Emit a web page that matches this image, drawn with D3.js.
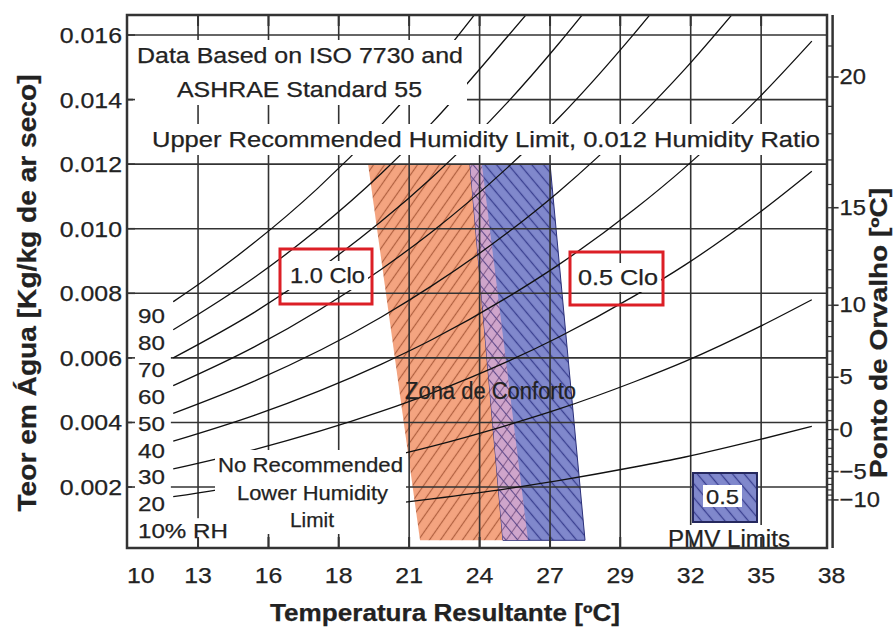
<!DOCTYPE html>
<html>
<head>
<meta charset="utf-8">
<script src="https://cdn.jsdelivr.net/npm/d3@7"></script>
<style>
  body { margin: 0; background: #fff; }
  svg { display: block; font-family: "Liberation Sans", Arial, Helvetica, sans-serif; }
</style>
</head>
<body>
<div id="chart"></div>
<script>
// --- data ---
const tempTicks = [10, 12.78, 15.56, 18.33, 21.11, 23.89, 26.67, 29.44, 32.22, 35, 37.78];
const tempLabels = ['10', '13', '16', '18', '21', '24', '27', '29', '32', '35', '38'];
const ratioTicks = [0.002, 0.004, 0.006, 0.008, 0.010, 0.012, 0.014, 0.016];
const ratioLabels = ['0.002', '0.004', '0.006', '0.008', '0.010', '0.012', '0.014', '0.016'];

const dewTicks = [20, 15, 10, 5, 0, -5, -10];
const dewTickRatio = [0.01470, 0.01065, 0.00763, 0.00540, 0.00378, 0.00248, 0.00160];
// minor dew point ticks, every 1 degree from 21 down to -10
const dewMinorRatio = [0.01566, 0.01470, 0.01379, 0.01294, 0.01213, 0.01137, 0.01065, 0.00997,
  0.00933, 0.00873, 0.00817, 0.00763, 0.00713, 0.00666, 0.00621, 0.00580, 0.00540, 0.00503,
  0.00469, 0.00436, 0.00406, 0.00378, 0.00347, 0.00320, 0.00294, 0.00270, 0.00248, 0.00227,
  0.00208, 0.00191, 0.00175, 0.00160];

const rhLabels = ['90', '80', '70', '60', '50', '40', '30', '20', '10% RH'];
const rh90 = [[11.8, 0.00774], [13, 0.00839], [15, 0.00957], [17.5, 0.01125], [20, 0.01320], [22, 0.01497], [24, 0.01694]];
const rh80 = [[11.8, 0.00687], [15, 0.00849], [17.5, 0.00998], [20, 0.01170], [22, 0.01327], [25, 0.01596], [26, 0.01688]];
const rh70 = [[11.8, 0.00600], [15, 0.00741], [17.5, 0.00872], [20, 0.01022], [22, 0.01158], [25, 0.01392], [27, 0.01572], [28, 0.01668]];
const rh60 = [[11.8, 0.00514], [15, 0.00634], [20, 0.00874], [22, 0.00990], [25, 0.01190], [27, 0.01342], [30, 0.01605], [31, 0.01700]];
const rh50 = [[11.8, 0.00428], [15, 0.00528], [20, 0.00726], [22, 0.00823], [25, 0.00988], [27, 0.01114], [30, 0.01331], [32, 0.01495], [34, 0.01677]];
const rh40 = [[11.8, 0.00342], [15, 0.00422], [20, 0.00580], [22, 0.00656], [25, 0.00788], [27, 0.00888], [30, 0.01060], [32, 0.01190], [35, 0.01413], [37, 0.01581]];
const rh30 = [[11.8, 0.00256], [15, 0.00316], [20, 0.00434], [22, 0.00491], [25, 0.00589], [27, 0.00664], [30, 0.00792], [32, 0.00888], [35, 0.01054], [37, 0.01178]];
const rh20 = [[11.8, 0.00170], [15, 0.00210], [20, 0.00288], [22, 0.00326], [25, 0.00392], [27, 0.00441], [30, 0.00526], [32, 0.00589], [35, 0.00699], [37, 0.00780]];
const rh10 = [[11.8, 0.00085], [15, 0.00105], [20, 0.00144], [22, 0.00163], [25, 0.00195], [27, 0.00220], [30, 0.00262], [32, 0.00293], [35, 0.00348], [37, 0.00388]];

// comfort zones: [temperature, humidity ratio]
const zone10clo = [[19.49, 0.012], [23.98, 0.012], [25.80, 0.00035], [21.54, 0.00035]];
const zone05clo = [[23.51, 0.012], [26.67, 0.012], [28.05, 0.00035], [24.81, 0.00035]];

// --- chart ---
const width = 893;
const height = 628;
const plot = { left: 127, right: 827, top: 15, bottom: 548 };
const ink = '#222';

const x = d3.scaleLinear().domain([10, 37.78]).range([127.6, 831.6]);
const y = d3.scaleLinear().domain([0, 0.016]).range([551.6, 35]);

const svg = d3.select('#chart').append('svg')
  .attr('width', width)
  .attr('height', height);

svg.append('rect').attr('width', width).attr('height', height).attr('fill', '#fff');

const defs = svg.append('defs');

function hatch(id, bg, stroke, angle, sw) {
  const p = defs.append('pattern')
    .attr('id', id)
    .attr('patternUnits', 'userSpaceOnUse')
    .attr('width', 9)
    .attr('height', 9)
    .attr('patternTransform', `rotate(${angle})`);
  p.append('rect').attr('width', 9).attr('height', 9).attr('fill', bg);
  p.append('line')
    .attr('x1', 4.5).attr('x2', 4.5).attr('y1', 0).attr('y2', 9)
    .attr('stroke', stroke).attr('stroke-width', sw);
}
hatch('hatchOrange', '#f4a480', '#b0603f', 35, 1.2);
hatch('hatchBlue', '#8088cc', '#3a4090', -40, 1.3);
hatch('hatchPink', '#cfa5cb', '#86608f', 35, 1.1);
hatch('hatchPink2', 'none', '#5f4a8a', -40, 1.1);

defs.append('clipPath').attr('id', 'plotClip')
  .append('rect')
  .attr('x', plot.left).attr('y', plot.top)
  .attr('width', plot.right - plot.left).attr('height', plot.bottom - plot.top);

const zonePath = d3.line().x(d => x(d[0])).y(d => y(d[1]));

defs.append('clipPath').attr('id', 'zone10Clip')
  .append('path').attr('d', zonePath(zone10clo) + 'Z');

// comfort zones
const zones = svg.append('g');
zones.append('path')
  .attr('d', zonePath(zone10clo) + 'Z')
  .attr('fill', 'url(#hatchOrange)');
zones.append('path')
  .attr('d', zonePath(zone05clo) + 'Z')
  .attr('fill', 'url(#hatchBlue)')
  .attr('stroke', '#2a2f78')
  .attr('stroke-width', 1);
const overlap = zones.append('g').attr('clip-path', 'url(#zone10Clip)');
overlap.append('path').attr('d', zonePath(zone05clo) + 'Z').attr('fill', 'url(#hatchPink)');
overlap.append('path').attr('d', zonePath(zone05clo) + 'Z').attr('fill', 'url(#hatchPink2)');

// grid
const grid = svg.append('g')
  .attr('stroke', '#333')
  .attr('stroke-width', 1.6);
grid.selectAll('line.v')
  .data(tempTicks.slice(1, -1))
  .join('line')
  .attr('class', 'v')
  .attr('x1', d => x(d)).attr('x2', d => x(d))
  .attr('y1', plot.top).attr('y2', plot.bottom);
grid.selectAll('line.h')
  .data(ratioTicks)
  .join('line')
  .attr('class', 'h')
  .attr('x1', plot.left).attr('x2', plot.right)
  .attr('y1', d => y(d)).attr('y2', d => y(d));

// relative humidity curves
const rhCurves = [rh90, rh80, rh70, rh60, rh50, rh40, rh30, rh20, rh10];
const curve = d3.line()
  .x(d => x(d[0]))
  .y(d => y(d[1]))
  .curve(d3.curveMonotoneX);
svg.append('g')
  .attr('clip-path', 'url(#plotClip)')
  .attr('fill', 'none')
  .attr('stroke', '#111')
  .attr('stroke-width', 1.3)
  .selectAll('path')
  .data(rhCurves)
  .join('path')
  .attr('d', curve);

const halos = svg.append('g').attr('fill', '#fff');
const marks = svg.append('g');
const texts = svg.append('g').attr('fill', ink).attr('stroke', ink).attr('stroke-width', 0.25);

function label(parent, str, o) {
  const t = parent.append('text')
    .attr('x', o.x)
    .attr('y', o.y)
    .attr('font-size', o.size || 22)
    .attr('text-anchor', o.anchor || 'start')
    .text(str);
  if (o.bold) t.attr('font-weight', 'bold');
  if (o.color) t.attr('fill', o.color);
  if (o.transform) t.attr('transform', o.transform);
  const len = o.len || (o.k ? t.node().getComputedTextLength() * o.k : null);
  if (len) t.attr('textLength', len).attr('lengthAdjust', 'spacingAndGlyphs');
  return t;
}

function halo(nodes, px, py) {
  const boxes = nodes.map(n => n.node().getBBox());
  const x0 = d3.min(boxes, b => b.x) - px;
  const x1 = d3.max(boxes, b => b.x + b.width) + px;
  const y0 = d3.min(boxes, b => b.y) - py;
  const y1 = d3.max(boxes, b => b.y + b.height) + py;
  halos.append('rect').attr('x', x0).attr('y', y0).attr('width', x1 - x0).attr('height', y1 - y0);
}

// annotations inside the plot
halo([
  label(texts, 'Data Based on ISO 7730 and', { x: 137, y: 63, len: 326 }),
  label(texts, 'ASHRAE Standard 55', { x: 177, y: 97, len: 245 })
], 4, 3);
halo([label(texts, 'Upper Recommended Humidity Limit, 0.012 Humidity Ratio', { x: 152, y: 147, len: 668 })], 4, 3);
halo([
  label(texts, 'No Recommended', { x: 218, y: 472, size: 21, len: 185 }),
  label(texts, 'Lower Humidity', { x: 237, y: 500, size: 21, len: 151 }),
  label(texts, 'Limit', { x: 290, y: 527, size: 21, len: 44 })
], 3, 3);
rhLabels.forEach((s, i) => {
  const t = label(texts, s, { x: 138, y: 323 + i * 26.9, size: 21, k: 1.15 });
  halo([t], 6, 1);
});
halo([label(texts, '1.0 Clo', { x: 290, y: 283, len: 75 })], 3, 2);
halo([label(texts, '0.5 Clo', { x: 578, y: 285, len: 80 })], 3, 2);
halo([label(texts, 'PMV Limits', { x: 668, y: 547, size: 23, len: 122 })], 3, 1);
label(texts, 'Zona de Conforto', { x: 405, y: 399, size: 23, len: 171 });

// red clothing boxes
marks.append('rect')
  .attr('x', 280).attr('y', 249).attr('width', 92).attr('height', 55)
  .attr('fill', 'none').attr('stroke', '#dc1f26').attr('stroke-width', 3);
marks.append('rect')
  .attr('x', 570).attr('y', 252).attr('width', 93).attr('height', 53)
  .attr('fill', 'none').attr('stroke', '#dc1f26').attr('stroke-width', 3);

// PMV legend swatch
marks.append('rect')
  .attr('x', 693).attr('y', 473).attr('width', 64).attr('height', 49)
  .attr('fill', 'url(#hatchBlue)').attr('stroke', '#25285e').attr('stroke-width', 2);
marks.append('rect')
  .attr('x', 703).attr('y', 485).attr('width', 39).attr('height', 22)
  .attr('fill', '#fff');
label(texts, '0.5', { x: 722.5, y: 504, size: 21, anchor: 'middle', len: 33 });

// ticks and frame
const frame = svg.append('g').attr('stroke', '#333');
frame.selectAll('line.tb')
  .data(tempTicks.slice(1, -1))
  .join('line')
  .attr('class', 'tb')
  .attr('x1', d => x(d)).attr('x2', d => x(d))
  .attr('y1', plot.bottom - 11).attr('y2', plot.bottom)
  .attr('stroke-width', 2);
frame.selectAll('line.tt')
  .data(tempTicks.slice(1, -1))
  .join('line')
  .attr('class', 'tt')
  .attr('x1', d => x(d)).attr('x2', d => x(d))
  .attr('y1', plot.top).attr('y2', plot.top + 11)
  .attr('stroke-width', 2);
frame.selectAll('line.tl')
  .data(ratioTicks)
  .join('line')
  .attr('class', 'tl')
  .attr('x1', plot.left).attr('x2', plot.left + 8)
  .attr('y1', d => y(d)).attr('y2', d => y(d))
  .attr('stroke-width', 1.6);
frame.append('rect')
  .attr('x', plot.left).attr('y', plot.top)
  .attr('width', plot.right - plot.left).attr('height', plot.bottom - plot.top)
  .attr('fill', 'none').attr('stroke-width', 2.5);

// dew point axis on the right
const dewX = x(37.78) + 1;
frame.append('line')
  .attr('x1', dewX).attr('x2', dewX)
  .attr('y1', plot.top).attr('y2', plot.bottom)
  .attr('stroke-width', 2.5);
frame.selectAll('line.dm')
  .data(dewMinorRatio)
  .join('line')
  .attr('class', 'dm')
  .attr('x1', plot.right).attr('x2', dewX)
  .attr('y1', d => y(d)).attr('y2', d => y(d))
  .attr('stroke-width', 1.2);
frame.selectAll('line.dM')
  .data(dewTickRatio)
  .join('line')
  .attr('class', 'dM')
  .attr('x1', dewX).attr('x2', dewX + 6)
  .attr('y1', d => y(d)).attr('y2', d => y(d))
  .attr('stroke-width', 1.6);
dewTicks.forEach((d, i) => {
  const s = d < 0 ? '\u2212' + Math.abs(d) : String(d);
  label(texts, s, { x: dewX + 7, y: y(dewTickRatio[i]) + 7, k: 1.08 });
});

// axis tick labels
ratioTicks.forEach((d, i) => {
  label(texts, ratioLabels[i], { x: 122, y: y(d) + 8, anchor: 'end', k: 1.13 });
});
tempTicks.forEach((d, i) => {
  label(texts, tempLabels[i], {
    x: i === 0 ? plot.left : x(d),
    y: 583,
    anchor: i === 0 ? 'start' : 'middle',
    k: 1.13
  });
});

// axis titles
label(texts, 'Temperatura Resultante [ºC]', { x: 445, y: 621, size: 23, bold: true, anchor: 'middle', len: 350 });
label(texts, 'Teor em Água [Kg/kg de ar seco]', {
  x: 0, y: 0, size: 26, bold: true, anchor: 'middle', len: 437,
  transform: 'translate(36,293) rotate(-90)'
});
label(texts, 'Ponto de Orvalho [ºC]', {
  x: 0, y: 0, size: 23, bold: true, anchor: 'middle', len: 290,
  transform: 'translate(887,333) rotate(-90)'
});
</script>
</body>
</html>
